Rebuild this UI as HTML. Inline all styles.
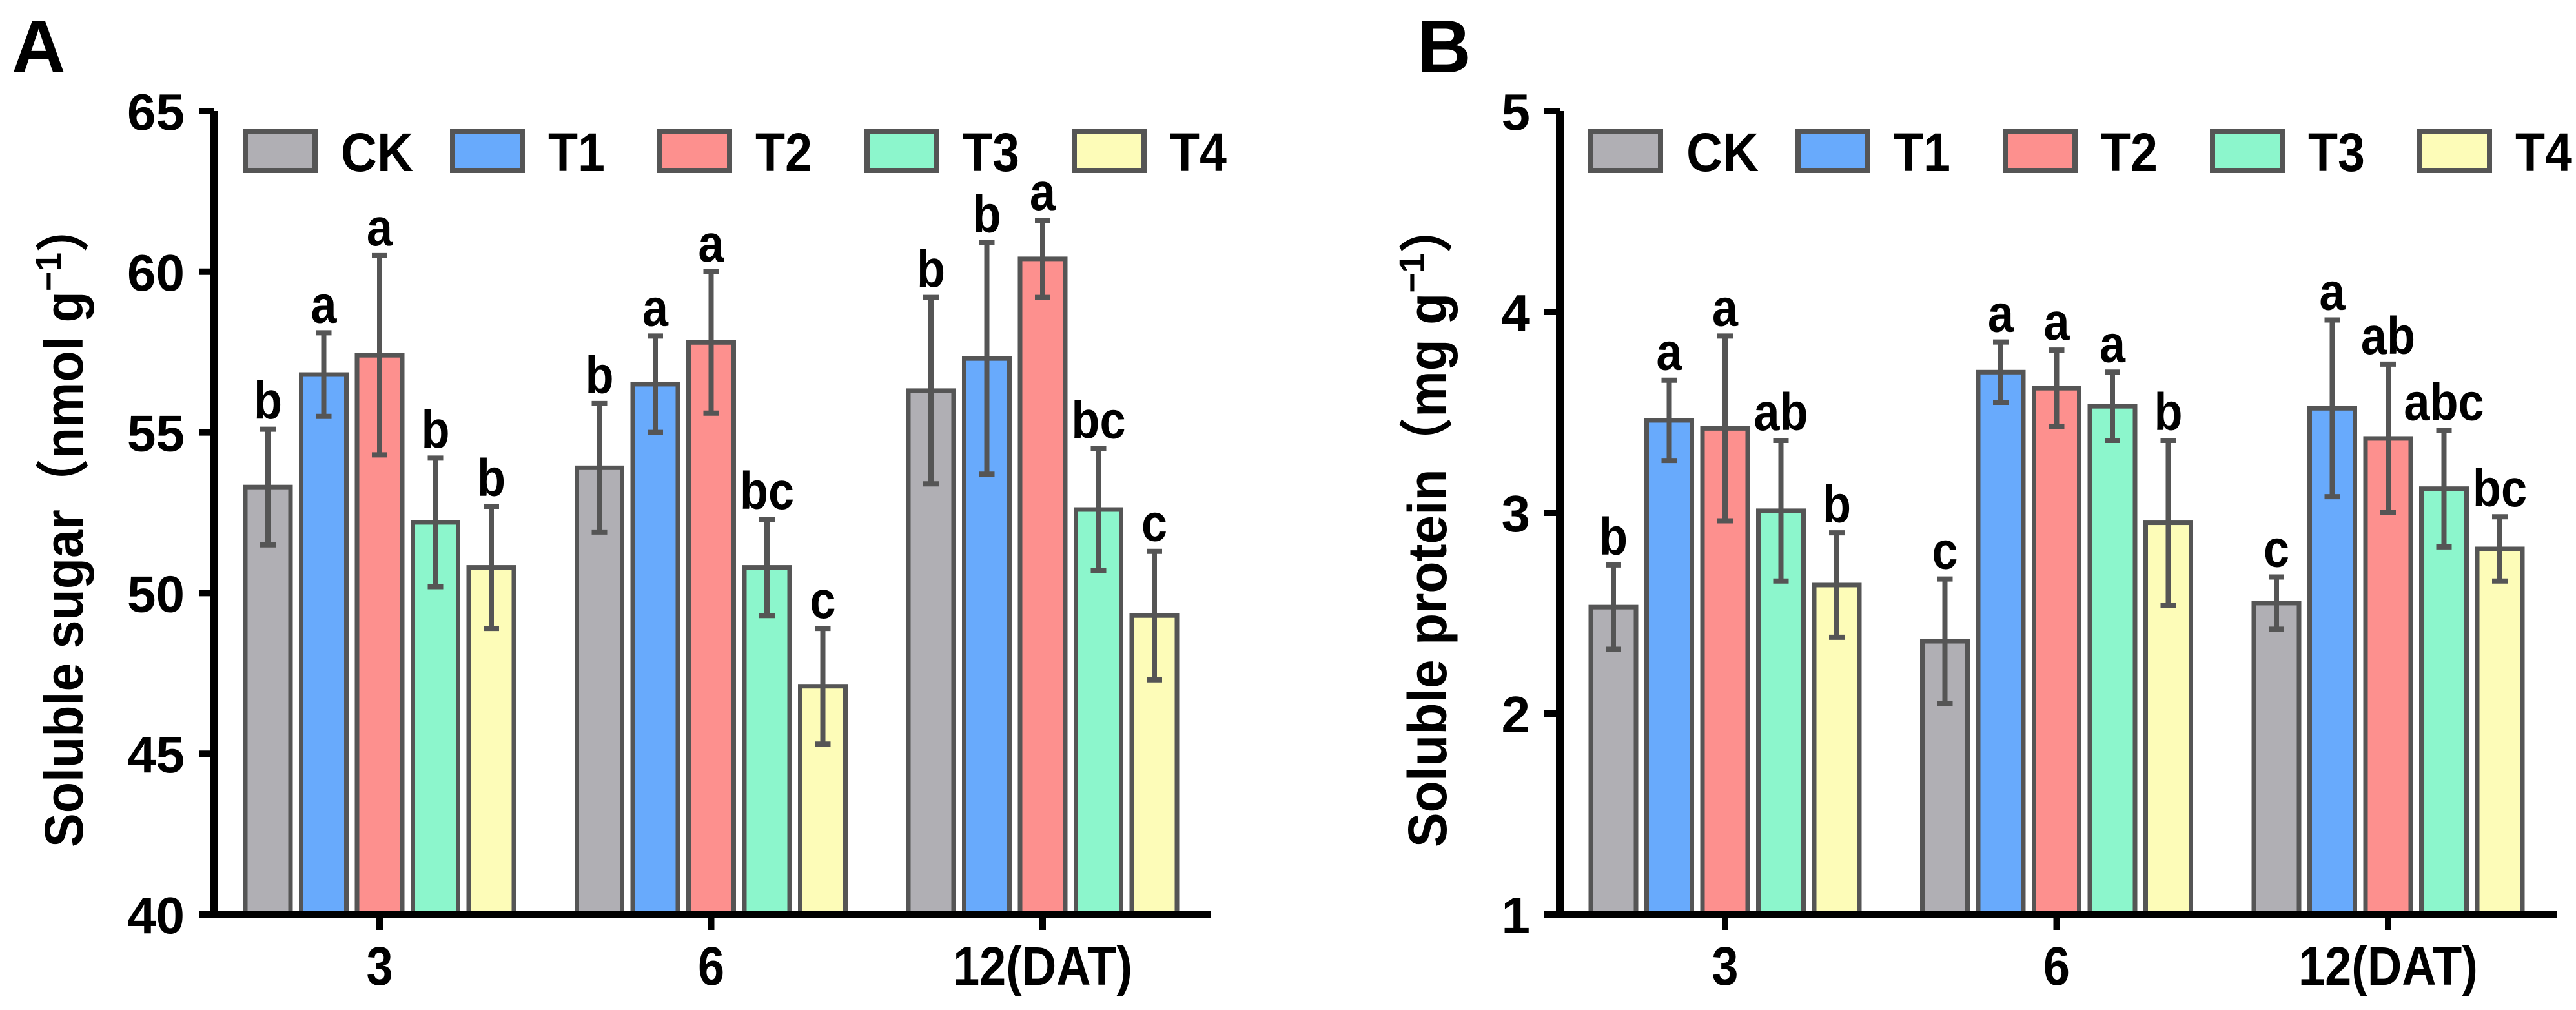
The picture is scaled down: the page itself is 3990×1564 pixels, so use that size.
<!DOCTYPE html>
<html><head><meta charset="utf-8"><style>
html,body{margin:0;padding:0;background:#fff;}
svg{display:block;}
text{font-family:"Liberation Sans","Noto Sans CJK SC",sans-serif;font-weight:bold;fill:#000;}
</style></head><body>
<svg id="fig" width="3990" height="1564" viewBox="0 0 3990 1564" xmlns="http://www.w3.org/2000/svg"></svg>
<script>
const categories = ["3", "6", "12(DAT)"];
const series = ["CK", "T1", "T2", "T3", "T4"];
const colors = ["#b0afb4", "#68aafc", "#fd908e", "#8cf6cc", "#fdfcb8"];
// Panel A: soluble sugar
const sugarMean = [[53.3, 53.9, 56.3], [56.8, 56.5, 57.3], [57.4, 57.8, 60.4], [52.2, 50.8, 52.6], [50.8, 47.1, 49.3]];
const sugarErr = [[1.8, 2.0, 2.9], [1.3, 1.5, 3.6], [3.1, 2.2, 1.2], [2.0, 1.5, 1.9], [1.9, 1.8, 2.0]];
const sugarLetters = [["b", "b", "b"], ["a", "a", "b"], ["a", "a", "a"], ["b", "bc", "bc"], ["b", "c", "c"]];
const sugarTicks = [40, 45, 50, 55, 60, 65];
// Panel B: soluble protein
const protMean = [[2.53, 2.36, 2.55], [3.46, 3.70, 3.52], [3.42, 3.62, 3.37], [3.01, 3.53, 3.12], [2.64, 2.95, 2.82]];
const protErr = [[0.21, 0.31, 0.13], [0.20, 0.15, 0.44], [0.46, 0.19, 0.37], [0.35, 0.17, 0.29], [0.26, 0.41, 0.16]];
const protLetters = [["b", "c", "c"], ["a", "a", "a"], ["a", "a", "ab"], ["ab", "a", "abc"], ["b", "b", "bc"]];
const protTicks = [1, 2, 3, 4, 5];

const NS = "http://www.w3.org/2000/svg";
const svg = document.getElementById("fig");
function mk(tag, attrs, parent, txt) {
  const e = document.createElementNS(NS, tag);
  for (const k in attrs) e.setAttribute(k, attrs[k]);
  if (txt !== undefined) e.textContent = txt;
  (parent || svg).appendChild(e);
  return e;
}

function panel(off, letter, title, mean, err, letters, ticks, ymin, ymax, key) {
  const g = mk("g", {});
  
  
  const axX = 332 + off, yTop = 172, yBot = 1416, axEnd = 1876 + off;
  const y = v => yBot - (v - ymin) / (ymax - ymin) * (yBot - yTop);
  const groupX = i => 588 + off + i * 513.5;
  const pitch = 86.5, bw = 70;

  const pl = mk("text", {x: (off ? 2195 : 18), y: 112, "font-size": 116}, g, letter);
  
  

  for (let s = 0; s < series.length; s++) {
    for (let c = 0; c < categories.length; c++) {
      const cx = groupX(c) + (s - 2) * pitch;
      const v = mean[s][c], e = err[s][c];
      const r = mk("rect", {x: cx - bw / 2, y: y(v), width: bw, height: yBot - y(v), fill: colors[s], stroke: "#555", "stroke-width": 7}, g);
      
      
      const eb = mk("path", {d: `M${cx},${y(v - e)}V${y(v + e)}M${cx - 12},${y(v - e)}H${cx + 12}M${cx - 12},${y(v + e)}H${cx + 12}`, stroke: "#555", "stroke-width": 8, fill: "none"}, g);
      
      
      const lt = mk("text", {x: cx, y: y(v + e) - 16, "font-size": 82, "text-anchor": "middle", transform: `translate(${cx},0) scale(0.88,1) translate(${-cx},0)`}, g, letters[s][c]);
      
      
    }
  }
  const ya = mk("path", {d: `M${axX},${yTop}V${yBot + 6}`, stroke: "#000", "stroke-width": 12, fill: "none"}, g);
  
  
  const xa = mk("path", {d: `M${axX - 6},${yBot}H${axEnd}`, stroke: "#000", "stroke-width": 12, fill: "none"}, g);
  
  
  for (const t of ticks) {
    mk("path", {d: `M${axX - 24},${y(t)}H${axX}`, stroke: "#000", "stroke-width": 10}, g);
    const tl = mk("text", {x: 286 + off, y: y(t) + 29, "font-size": 80, "text-anchor": "end"}, g, String(t));
    
    
  }
  for (let c = 0; c < categories.length; c++) {
    mk("path", {d: `M${groupX(c)},${yBot}V${yBot + 24}`, stroke: "#000", "stroke-width": 10}, g);
    const xl = mk("text", {x: groupX(c), y: 1525, "font-size": 84, "text-anchor": "middle", transform: `translate(${groupX(c)},0) scale(0.88,1) translate(${-groupX(c)},0)`}, g, categories[c]);
    
    
  }
  const cy = 812, tx = off ? 2240 : 128;
  const yt = mk("text", {x: tx, y: cy, "font-size": 84, "text-anchor": "middle", transform: `rotate(-90 ${tx} ${cy})`, textLength: 1000, lengthAdjust: "spacingAndGlyphs"}, g);
  
  
  mk("tspan", {}, yt, title + "（");
  mk("tspan", {}, yt, title === "Soluble sugar" ? "nmol g" : "mg g");
  mk("tspan", {dy: -34, "font-size": 56}, yt, "−1");
  mk("tspan", {dy: 34}, yt, "）");
  for (let s = 0; s < series.length; s++) {
    const lx = 380 + off + s * 321;
    const lg = mk("g", {}, g);
    
    
    mk("rect", {x: lx, y: 204, width: 108, height: 60, fill: colors[s], stroke: "#555", "stroke-width": 8}, lg);
    mk("text", {x: lx + 148, y: 265, "font-size": 84, textLength: s === 0 ? 112 : 88, lengthAdjust: "spacingAndGlyphs"}, lg, series[s]);
  }
}
panel(0, "A", "Soluble sugar", sugarMean, sugarErr, sugarLetters, sugarTicks, 40, 65, "a");
panel(2084, "B", "Soluble protein", protMean, protErr, protLetters, protTicks, 1, 5, "b");
</script>
</body></html>
